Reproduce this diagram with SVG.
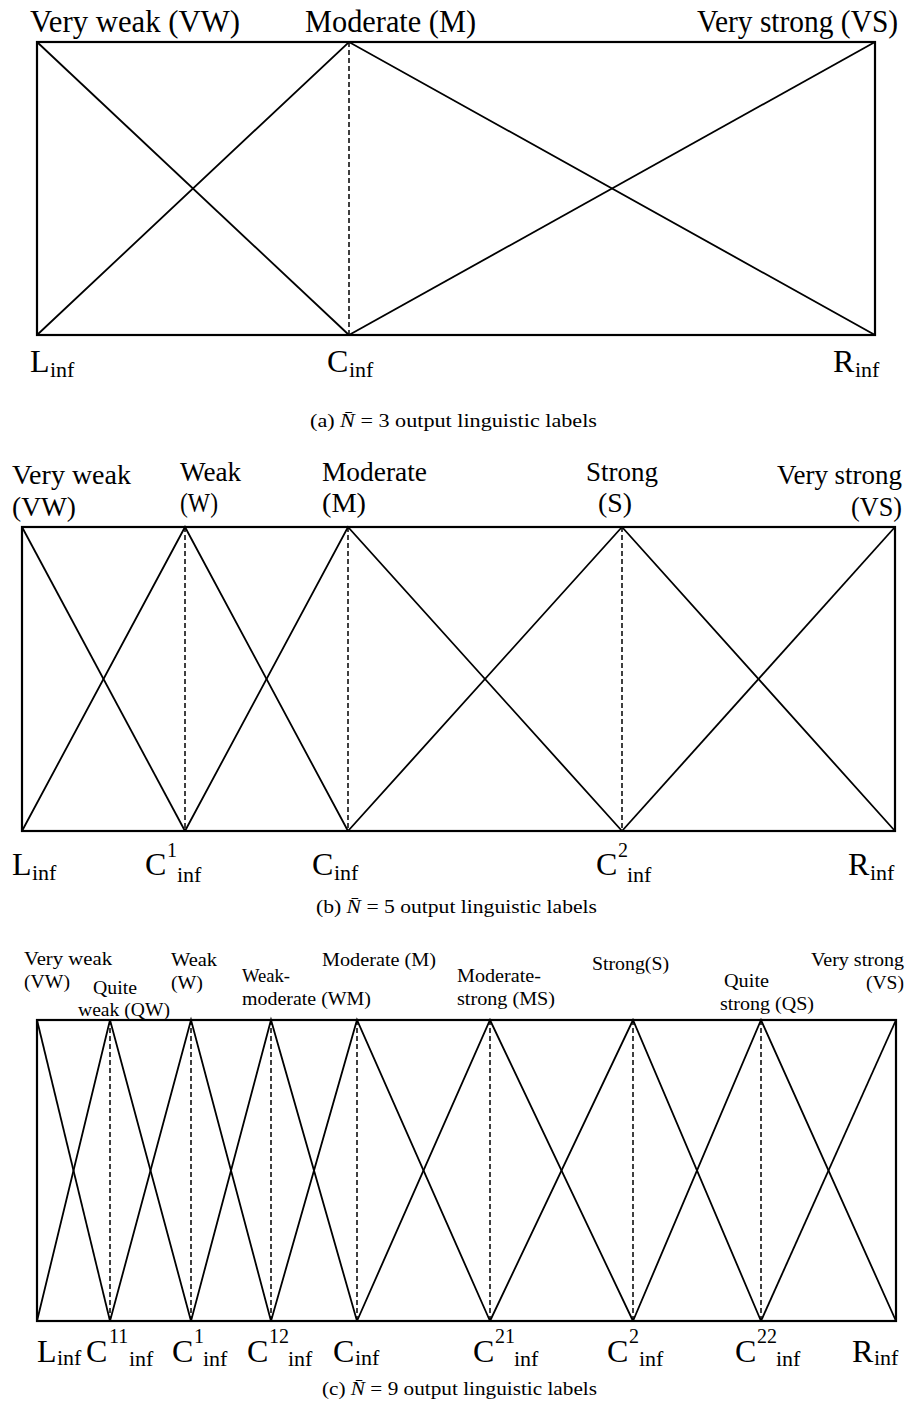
<svg xmlns="http://www.w3.org/2000/svg" width="908" height="1402" viewBox="0 0 908 1402">
<style>
text{font-family:"Liberation Serif","Times New Roman",serif;fill:#000}
.ta{font-size:32px}
.tb{font-size:28px}
.tc{font-size:18px}
.cap{font-size:19px}
.m{font-size:32px}
.s{font-size:22px}
.p{font-size:20px}
.frame{fill:none;stroke:#000;stroke-width:2.2}
.mf{fill:none;stroke:#000;stroke-width:1.8;stroke-linejoin:miter}
.dash{stroke:#000;stroke-width:1.5;stroke-dasharray:5 3;fill:none}
</style>
<rect width="908" height="1402" fill="#fff"/>

<!-- Panel a -->
<g id="panel-a">
<rect class="frame" x="37" y="42" width="838" height="293"/>
<g id="a-connectors">
<polyline class="mf" points="37,42 349,335"/>
<polyline class="mf" points="37,335 349,42 875,335"/>
<polyline class="mf" points="349,335 875,42"/>
<line class="dash" x1="349" y1="42" x2="349" y2="335"/>
</g>
<g id="a-VW"><text class="ta" x="30" y="32" textLength="210" lengthAdjust="spacingAndGlyphs">Very weak (VW)</text></g>
<g id="a-M"><text class="ta" x="305" y="32" textLength="171" lengthAdjust="spacingAndGlyphs">Moderate (M)</text></g>
<g id="a-VS"><text class="ta" transform="translate(697,32) scale(0.92,1)" x="0" y="0">Very strong (VS)</text></g>
<g id="a-L"><text><tspan class="m" x="30" y="372">L</tspan><tspan class="s" x="50" y="377">inf</tspan></text></g>
<g id="a-C"><text><tspan class="m" x="327" y="372">C</tspan><tspan class="s" x="349" y="377">inf</tspan></text></g>
<g id="a-R"><text><tspan class="m" x="833" y="372">R</tspan><tspan class="s" x="855" y="377">inf</tspan></text></g>
<text class="cap" x="310" y="427" textLength="287" lengthAdjust="spacingAndGlyphs">(a)  <tspan font-style="italic">N̄</tspan> = 3 output linguistic labels</text>
</g>

<!-- Panel b -->
<g id="panel-b">
<rect class="frame" x="22" y="527" width="873" height="304"/>
<g id="b-connectors">
<polyline class="mf" points="22,527 185,831"/>
<polyline class="mf" points="22,831 185,527 348,831"/>
<polyline class="mf" points="185,831 348,527 622,831"/>
<polyline class="mf" points="348,831 622,527 895,831"/>
<polyline class="mf" points="622,831 895,527"/>
<line class="dash" x1="185" y1="527" x2="185" y2="831"/>
<line class="dash" x1="348" y1="527" x2="348" y2="831"/>
<line class="dash" x1="622" y1="527" x2="622" y2="831"/>
</g>
<g id="b-VW"><text class="tb" x="12" y="484" textLength="119" lengthAdjust="spacingAndGlyphs">Very weak</text><text class="tb" x="12" y="516" textLength="64" lengthAdjust="spacingAndGlyphs">(VW)</text></g>
<g id="b-W"><text class="tb" x="180" y="481" textLength="61" lengthAdjust="spacingAndGlyphs">Weak</text><text class="tb" x="180" y="512" textLength="38" lengthAdjust="spacingAndGlyphs">(W)</text></g>
<g id="b-M"><text class="tb" x="322" y="481" textLength="105" lengthAdjust="spacingAndGlyphs">Moderate</text><text class="tb" x="322" y="512" textLength="44" lengthAdjust="spacingAndGlyphs">(M)</text></g>
<g id="b-S"><text class="tb" x="586" y="481" textLength="72" lengthAdjust="spacingAndGlyphs">Strong</text><text class="tb" x="598" y="512" textLength="34" lengthAdjust="spacingAndGlyphs">(S)</text></g>
<g id="b-VS"><text class="tb" x="777" y="484" textLength="125" lengthAdjust="spacingAndGlyphs">Very strong</text><text class="tb" x="851" y="516" textLength="51" lengthAdjust="spacingAndGlyphs">(VS)</text></g>
<g id="b-L"><text><tspan class="m" x="12" y="875">L</tspan><tspan class="s" x="32" y="880">inf</tspan></text></g>
<g id="b-C1"><text><tspan class="m" x="145" y="875">C</tspan><tspan class="p" x="167" y="857">1</tspan><tspan class="s" x="177" y="882">inf</tspan></text></g>
<g id="b-C"><text><tspan class="m" x="312" y="875">C</tspan><tspan class="s" x="334" y="880">inf</tspan></text></g>
<g id="b-C2"><text><tspan class="m" x="596" y="875">C</tspan><tspan class="p" x="618" y="857">2</tspan><tspan class="s" x="627" y="882">inf</tspan></text></g>
<g id="b-R"><text><tspan class="m" x="848" y="875">R</tspan><tspan class="s" x="870" y="880">inf</tspan></text></g>
<text class="cap" x="316" y="913" textLength="281" lengthAdjust="spacingAndGlyphs">(b)  <tspan font-style="italic">N̄</tspan> = 5 output linguistic labels</text>
</g>

<!-- Panel c -->
<g id="panel-c">
<rect class="frame" x="37" y="1020" width="859" height="301"/>
<g id="c-connectors">
<polyline class="mf" points="37,1020 110,1321"/>
<polyline class="mf" points="37,1321 110,1020 191,1321"/>
<polyline class="mf" points="110,1321 191,1020 271,1321"/>
<polyline class="mf" points="191,1321 271,1020 357,1321"/>
<polyline class="mf" points="271,1321 357,1020 490,1321"/>
<polyline class="mf" points="357,1321 490,1020 633,1321"/>
<polyline class="mf" points="490,1321 633,1020 761,1321"/>
<polyline class="mf" points="633,1321 761,1020 896,1321"/>
<polyline class="mf" points="761,1321 896,1020"/>
<line class="dash" x1="110" y1="1020" x2="110" y2="1321"/>
<line class="dash" x1="191" y1="1020" x2="191" y2="1321"/>
<line class="dash" x1="271" y1="1020" x2="271" y2="1321"/>
<line class="dash" x1="357" y1="1020" x2="357" y2="1321"/>
<line class="dash" x1="490" y1="1020" x2="490" y2="1321"/>
<line class="dash" x1="633" y1="1020" x2="633" y2="1321"/>
<line class="dash" x1="761" y1="1020" x2="761" y2="1321"/>
</g>
<g id="c-VW"><text class="tc" x="24" y="965" textLength="88" lengthAdjust="spacingAndGlyphs">Very weak</text><text class="tc" x="24" y="988" textLength="46" lengthAdjust="spacingAndGlyphs">(VW)</text></g>
<g id="c-QW"><text class="tc" x="93" y="994" textLength="44" lengthAdjust="spacingAndGlyphs">Quite</text><text class="tc" x="78" y="1016" textLength="92" lengthAdjust="spacingAndGlyphs">weak (QW)</text></g>
<g id="c-W"><text class="tc" x="171" y="966" textLength="46" lengthAdjust="spacingAndGlyphs">Weak</text><text class="tc" x="171" y="989" textLength="32" lengthAdjust="spacingAndGlyphs">(W)</text></g>
<g id="c-WM"><text class="tc" x="242" y="982" textLength="48" lengthAdjust="spacingAndGlyphs">Weak-</text><text class="tc" x="242" y="1005" textLength="129" lengthAdjust="spacingAndGlyphs">moderate (WM)</text></g>
<g id="c-M"><text class="tc" x="322" y="966" textLength="114" lengthAdjust="spacingAndGlyphs">Moderate (M)</text></g>
<g id="c-MS"><text class="tc" x="457" y="982" textLength="84" lengthAdjust="spacingAndGlyphs">Moderate-</text><text class="tc" x="457" y="1005" textLength="98" lengthAdjust="spacingAndGlyphs">strong (MS)</text></g>
<g id="c-S"><text class="tc" x="592" y="970" textLength="77" lengthAdjust="spacingAndGlyphs">Strong(S)</text></g>
<g id="c-QS"><text class="tc" x="724" y="987" textLength="45" lengthAdjust="spacingAndGlyphs">Quite</text><text class="tc" x="720" y="1010" textLength="94" lengthAdjust="spacingAndGlyphs">strong (QS)</text></g>
<g id="c-VS"><text class="tc" x="811" y="966" textLength="93" lengthAdjust="spacingAndGlyphs">Very strong</text><text class="tc" x="866" y="989" textLength="38" lengthAdjust="spacingAndGlyphs">(VS)</text></g>
<g id="c-L"><text><tspan class="m" x="37" y="1362">L</tspan><tspan class="s" x="57" y="1365">inf</tspan></text></g>
<g id="c-C11"><text><tspan class="m" x="86" y="1362">C</tspan><tspan class="p" x="109" y="1343">11</tspan><tspan class="s" x="129" y="1366">inf</tspan></text></g>
<g id="c-C1"><text><tspan class="m" x="172" y="1362">C</tspan><tspan class="p" x="194" y="1343">1</tspan><tspan class="s" x="203" y="1366">inf</tspan></text></g>
<g id="c-C12"><text><tspan class="m" x="247" y="1362">C</tspan><tspan class="p" x="269" y="1343">12</tspan><tspan class="s" x="288" y="1366">inf</tspan></text></g>
<g id="c-C"><text><tspan class="m" x="333" y="1362">C</tspan><tspan class="s" x="355" y="1365">inf</tspan></text></g>
<g id="c-C21"><text><tspan class="m" x="473" y="1362">C</tspan><tspan class="p" x="495" y="1343">21</tspan><tspan class="s" x="514" y="1366">inf</tspan></text></g>
<g id="c-C2"><text><tspan class="m" x="607" y="1362">C</tspan><tspan class="p" x="629" y="1343">2</tspan><tspan class="s" x="639" y="1366">inf</tspan></text></g>
<g id="c-C22"><text><tspan class="m" x="735" y="1362">C</tspan><tspan class="p" x="757" y="1343">22</tspan><tspan class="s" x="776" y="1366">inf</tspan></text></g>
<g id="c-R"><text><tspan class="m" x="852" y="1362">R</tspan><tspan class="s" x="874" y="1365">inf</tspan></text></g>
<text class="cap" x="322" y="1395" textLength="275" lengthAdjust="spacingAndGlyphs">(c)  <tspan font-style="italic">N̄</tspan> = 9 output linguistic labels</text>
</g>
</svg>
